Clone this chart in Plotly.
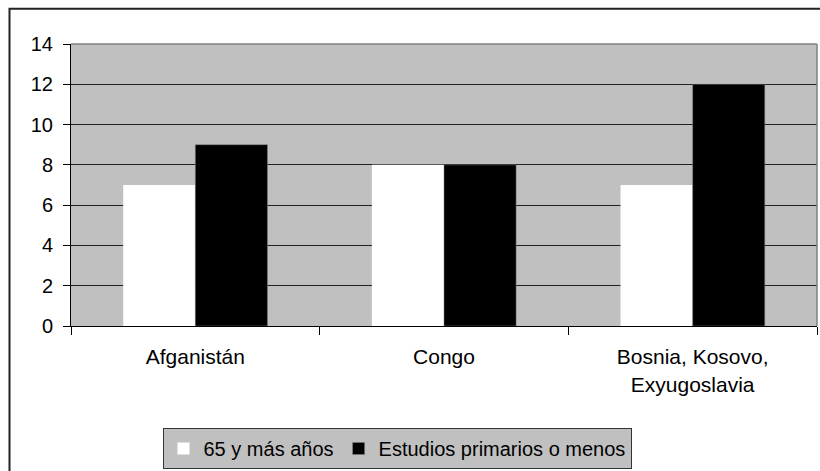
import plotly.graph_objects as go

categories = ["Afganistán", "Congo", "Bosnia, Kosovo,<br>Exyugoslavia"]
serie_65 = [7, 8, 7]
serie_estudios = [9, 8, 12]
names = ["65 y más años", "Estudios primarios o menos"]
y_ticks = [0, 2, 4, 6, 8, 10, 12, 14]

FONT = "Arial, Liberation Sans, sans-serif"
FS = 21

fig = go.Figure()
fig.add_trace(go.Bar(x=categories, y=serie_65, name=names[0],
                     marker=dict(color="#FFFFFF", line=dict(width=0))))
fig.add_trace(go.Bar(x=categories, y=serie_estudios, name=names[1],
                     marker=dict(color="#000000", line=dict(width=0.5, color="#808080"))))

L, R, T, B = 71, 817, 44, 327
W = R - L
H = B - T

def px(x):
    return (x - L) / W

def py(y):
    return (B - y) / H

fig.update_layout(
    width=820, height=471,
    margin=dict(l=L, r=820 - R, t=T, b=471 - B),
    paper_bgcolor="#FFFFFF",
    plot_bgcolor="#C0C0C0",
    barmode="group",
    bargap=0.42,
    bargroupgap=0,
    font=dict(family=FONT, size=FS, color="#000000"),
    showlegend=True,
    legend=dict(
        orientation="h",
        x=px(397), xanchor="center",
        y=py(428), yanchor="top",
        bgcolor="#C0C0C0",
        bordercolor="#333333",
        borderwidth=1,
        font=dict(family=FONT, size=20, color="#000000"),
        itemwidth=30,
        tracegroupgap=0,
        traceorder="normal",
    ),
    xaxis=dict(
        showgrid=False,
        showline=True, linecolor="#000000", linewidth=1,
        ticks="outside", tickson="boundaries", ticklen=8, tickcolor="#000000",
        ticklabelstandoff=12,
        tickfont=dict(family=FONT, size=FS, color="#000000"),
        fixedrange=True,
    ),
    yaxis=dict(
        range=[0, 14],
        tickvals=y_ticks,
        showgrid=True, gridcolor="#222222", gridwidth=1,
        showline=True, linecolor="#000000", linewidth=1,
        ticks="outside", ticklen=7, tickcolor="#000000",
        ticklabelstandoff=6,
        tickfont=dict(family=FONT, size=20, color="#000000"),
        zeroline=False,
        fixedrange=True,
    ),
    shapes=[
        dict(type="line", xref="paper", yref="paper", x0=0, x1=1, y0=1, y1=1,
             line=dict(color="#808080", width=1.5), layer="above"),
        dict(type="line", xref="paper", yref="paper", x0=1, x1=1, y0=0, y1=1,
             line=dict(color="#808080", width=1.5), layer="above"),
        dict(type="rect", xref="paper", yref="paper",
             x0=px(9.5), x1=px(830), y0=py(480), y1=py(8.5),
             line=dict(color="#222222", width=2), fillcolor="rgba(0,0,0,0)",
             layer="above"),
    ],
)

fig.write_html("out.html",
               config={"displayModeBar": False, "staticPlot": True},
               post_script="document.body.style.margin='0';document.body.style.overflow='hidden';")
